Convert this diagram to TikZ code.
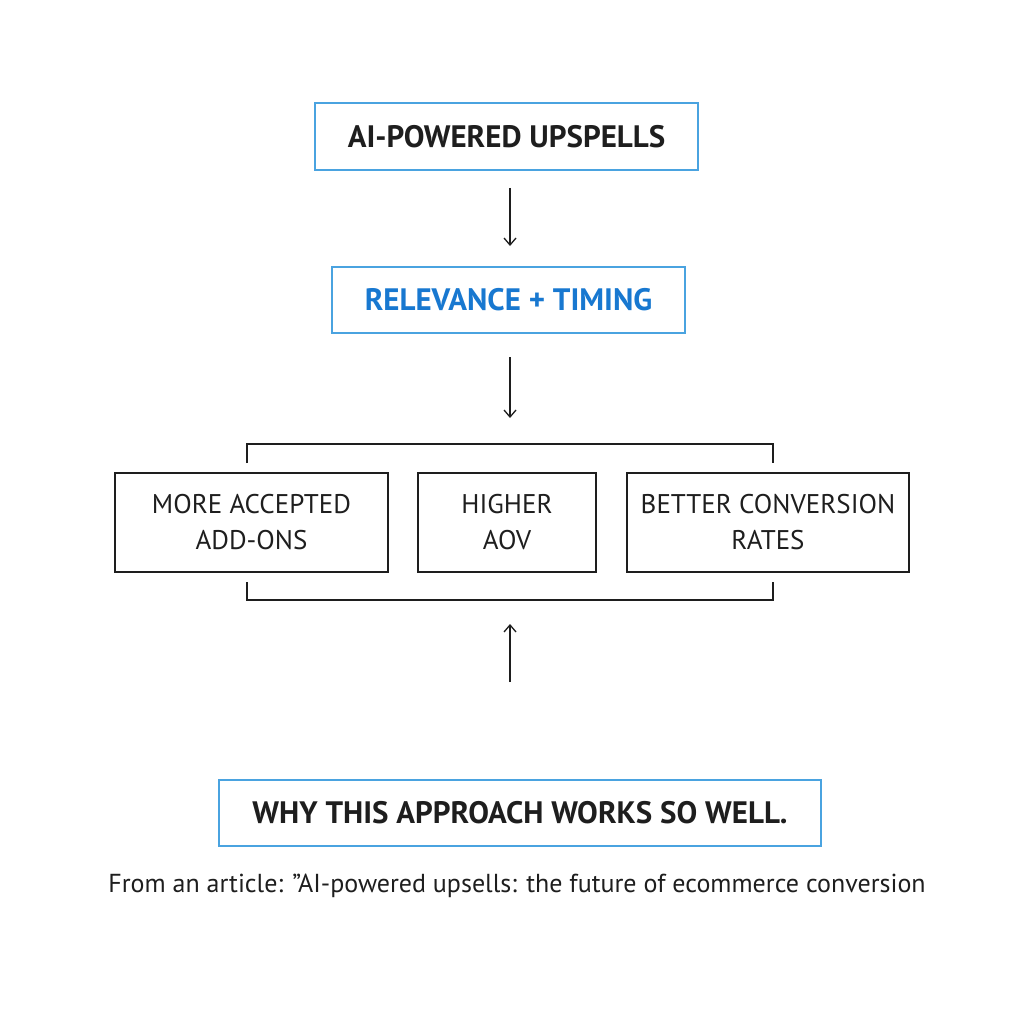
\documentclass[tikz,border=0pt]{standalone}
\usepackage{fontspec}
\setmainfont{PT Sans}
\usetikzlibrary{arrows.meta,positioning}
\definecolor{boxblue}{HTML}{4AA3E0}
\definecolor{textblue}{HTML}{1878D0}
\definecolor{ink}{HTML}{1E1E1E}
\tikzset{
  bluebox/.style={draw=boxblue,line width=2pt,inner sep=0pt,font=\bfseries\fontsize{31}{36}\selectfont,text=ink},
  blackbox/.style={draw=ink,line width=1.6pt,inner sep=0pt,align=center,font=\fontsize{27}{36}\selectfont,text=ink},
  flow/.style={-{Straight Barb[length=7pt,width=12pt]},line width=1.3pt,draw=ink},
  brace/.style={line width=1.6pt,draw=ink}
}
\begin{document}
\begin{tikzpicture}[x=1pt,y=-1pt]
  \useasboundingbox (0,0) rectangle (1024,1024);
  \node (top) [bluebox,minimum width=383pt,minimum height=67pt] at (506.5,136.5) {AI-POWERED UPSPELLS};
  \node (rel) [bluebox,text=textblue,minimum width=353pt,minimum height=66pt] at (508.5,300) {RELEVANCE + TIMING};
  \node (more) [blackbox,minimum width=273pt,minimum height=99pt] at (251.5,522.5) {MORE ACCEPTED\\ADD-ONS};
  \node (aov) [blackbox,minimum width=178pt,minimum height=99pt] at (507,522.5) {HIGHER\\AOV};
  \node (conv) [blackbox,minimum width=282pt,minimum height=99pt] at (768,522.5) {BETTER CONVERSION\\RATES};
  \node (why) [bluebox,minimum width=602pt,minimum height=66pt] at (520,813) {WHY THIS APPROACH WORKS SO WELL.};
  \node (src) [text=ink,font=\fontsize{26}{30}\selectfont] at (517,886) {From an article: "AI-powered upsells: the future of ecommerce conversion};

  % arrows and brackets
  \coordinate (a1) at (510,188);
  \coordinate (a2) at (510,246);
  \coordinate (b1) at (510,357);
  \coordinate (b2) at (510,418);
  \coordinate (c1) at (510,682);
  \coordinate (c2) at (510,624);
  \draw[flow] (a1) -- (a2);
  \draw[flow] (b1) -- (b2);
  \draw[flow] (c1) -- (c2);
  \draw[brace] (247,463) -- (247,444) -- (773,444) -- (773,463);
  \draw[brace] (247,582) -- (247,600) -- (773,600) -- (773,582);
\end{tikzpicture}
\end{document}
